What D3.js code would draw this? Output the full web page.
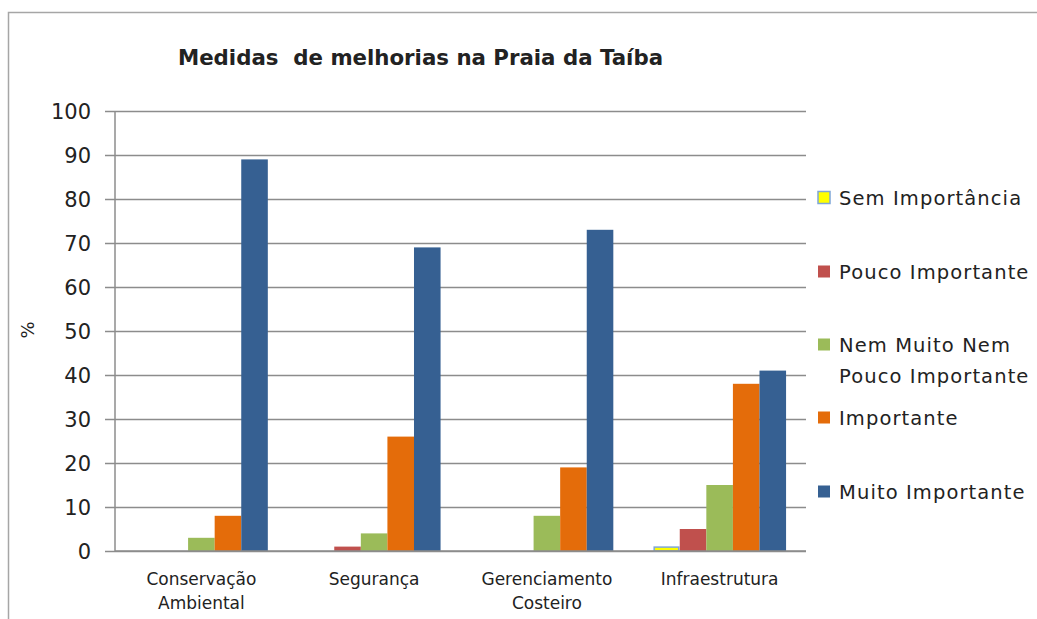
<!DOCTYPE html>
<html><head><meta charset="utf-8">
<script src="https://cdn.jsdelivr.net/npm/d3@7"></script>
<style>body{margin:0;background:#fff}svg{display:block}text{font-family:"DejaVu Sans",sans-serif;fill:#222}</style>
</head><body>
<script>
const categories = [["Conservação","Ambiental"],["Segurança"],["Gerenciamento","Costeiro"],["Infraestrutura"]];
const seriesNames = [["Sem Importância"],["Pouco Importante"],["Nem Muito Nem","Pouco Importante"],["Importante"],["Muito Importante"]];
const semImportancia = [0,0,0,1];
const poucoImportante = [0,1,0,5];
const nemMuitoNemPouco = [3,4,8,15];
const importante = [8,26,19,38];
const muitoImportante = [89,69,73,41];
const yTicks = [0,10,20,30,40,50,60,70,80,90,100];
const title = "Medidas  de melhorias na Praia da Taíba";
const yLabel = "%";

const series = [semImportancia, poucoImportante, nemMuitoNemPouco, importante, muitoImportante];
const colors = ["#FFFF00","#C0504D","#9BBB59","#E46C0A","#366092"];
const strokes = ["#7FA6D8",null,null,null,null];

const W=1037,H=619;
const svg=d3.select("body").append("svg").attr("width",W).attr("height",H);
svg.append("rect").attr("x",8.5).attr("y",12.5).attr("width",W).attr("height",H).attr("fill","none").attr("stroke","#a6a6a6").attr("stroke-width",1.5);

const pL=115,pR=806,pT=111,pB=551;
const y=d3.scaleLinear().domain([0,100]).range([pB,pT]);
const catIdx=categories.map((c,i)=>i);
const x0=d3.scaleBand().domain(catIdx).range([pL,pR]).paddingInner(0).paddingOuter(0);
const x1=d3.scaleBand().domain(d3.range(series.length)).range([0,x0.bandwidth()]).paddingInner(0).paddingOuter(0.75);

// gridlines
const yAxis=d3.axisLeft(y).tickValues(yTicks).tickSize(-(pR-pL)).tickPadding(24).tickFormat(d3.format("d"));
const ga=svg.append("g").attr("transform",`translate(${pL},0)`).call(yAxis);
ga.select(".domain").remove();
ga.selectAll(".tick line").attr("stroke","#8c8c8c").attr("stroke-width",1.5).attr("x1",-10);
ga.selectAll(".tick text").attr("font-size",21).attr("fill","#222").attr("font-family","DejaVu Sans").attr("dy","0.36em");
svg.append("line").attr("x1",pL).attr("x2",pL).attr("y1",pT).attr("y2",pB).attr("stroke","#8c8c8c").attr("stroke-width",1.5);

// bars
series.forEach((vals,s)=>{
  svg.append("g").selectAll("rect").data(vals).join("rect")
    .attr("x",(d,i)=>x0(i)+x1(s)+(strokes[s]?1:0))
    .attr("y",d=>y(d)+(strokes[s]?0.5:0))
    .attr("width",x1.bandwidth()-(strokes[s]?2:0))
    .attr("height",d=>Math.max(0,pB-y(d)-(strokes[s]?0.5:0)))
    .attr("fill",colors[s])
    .attr("stroke",d=>d>0?strokes[s]:null).attr("stroke-width",1.5);
});
// x axis line
svg.append("line").attr("x1",pL).attr("x2",pR).attr("y1",pB).attr("y2",pB).attr("stroke","#8c8c8c").attr("stroke-width",1.5);

// category labels
categories.forEach((lines,i)=>{
  const cx=x0(i)+x0.bandwidth()/2;
  const t=svg.append("text").attr("x",cx).attr("y",585).attr("text-anchor","middle").attr("font-size",17);
  lines.forEach((l,j)=>t.append("tspan").attr("x",cx).attr("dy",j?24:0).text(l));
});

// title
svg.append("text").attr("x",420.5).attr("y",65).attr("text-anchor","middle").attr("font-size",21.3).attr("font-weight","bold")
  .attr("font-family","Open Sans").style("white-space","pre").text(title);

// y label
svg.append("text").attr("transform","translate(34,330) rotate(-90)").attr("text-anchor","middle").attr("font-size",18).text(yLabel);

// legend
const legY=[198,272,345,418,492];
seriesNames.forEach((lines,s)=>{
  svg.append("rect").attr("x",818).attr("y",legY[s]-6.5).attr("width",12).attr("height",12).attr("fill",colors[s])
    .attr("stroke",strokes[s]).attr("stroke-width",1.5);
  const t=svg.append("text").attr("x",839).attr("y",legY[s]+7).attr("font-size",19.5).attr("letter-spacing",1.1);
  lines.forEach((l,j)=>t.append("tspan").attr("x",839).attr("dy",j?31:0).text(l));
});
</script>
</body></html>
